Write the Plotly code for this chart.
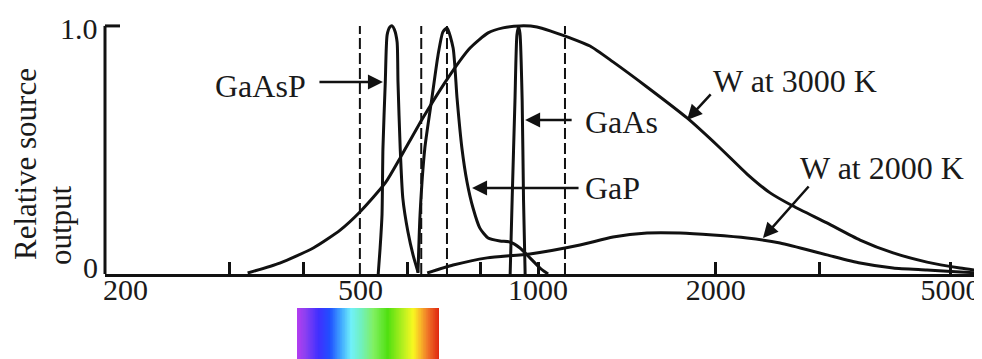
import math
import plotly.graph_objects as go

# ---------------- data (wavelength in nm, relative output) ----------------
w3000_nm = [322, 365, 416, 462, 499, 551, 584, 638, 709, 767, 823, 872, 932, 996, 1060,
            1133, 1225, 1340, 1530, 1789, 2035, 2261, 2474, 2705, 3088, 3515, 3998, 4563,
            5191, 5656]
w3000_val = [0.004, 0.044, 0.105, 0.177, 0.250, 0.367, 0.468, 0.629, 0.802, 0.911, 0.972,
             0.992, 1.000, 0.996, 0.976, 0.952, 0.919, 0.855, 0.754, 0.629, 0.508, 0.403,
             0.327, 0.274, 0.206, 0.137, 0.085, 0.048, 0.024, 0.012]

w2000_nm = [649, 718, 820, 969, 1178, 1340, 1530, 1741, 1980, 2261, 2572, 3088, 3515,
            3998, 4563, 5191, 5656]
w2000_val = [0.004, 0.036, 0.065, 0.081, 0.117, 0.149, 0.165, 0.165, 0.157, 0.145, 0.125,
             0.077, 0.044, 0.024, 0.016, 0.008, 0.004]

gaasp_nm = [536, 540, 544, 546, 551, 555, 561, 566, 571, 577, 579, 584, 590, 602, 614, 626]
gaasp_val = [0.0, 0.105, 0.238, 0.508, 0.774, 0.964, 0.996, 1.0, 0.985, 0.935, 0.774,
             0.508, 0.306, 0.169, 0.077, 0.008]

gap_nm = [626, 631, 643, 661, 677, 690, 701, 718, 729, 743, 758, 776, 797, 823, 862, 896,
          932, 969, 1008, 1040]
gap_val = [0.004, 0.238, 0.508, 0.710, 0.883, 0.976, 0.992, 0.911, 0.710, 0.508, 0.371,
           0.266, 0.185, 0.145, 0.133, 0.129, 0.105, 0.065, 0.024, 0.0]

gaas_nm = [897, 904, 914, 921, 927, 932, 940, 945, 951]
gaas_val = [0.0, 0.30, 0.70, 0.964, 0.996, 0.97, 0.70, 0.30, 0.0]

dashed_nm = [499, 634, 701, 1111]
dashed_top = 1.0

x_tick_vals = [200, 500, 1000, 2000, 5000]
x_tick_text = ["200", "500", "1000", "2000", "5000"]
x_minor_vals = [300, 400, 600, 800, 1000, 2000, 3000, 5000]
y_tick_vals = [0, 1.0]
y_tick_text = ["0", "1.0"]

# visible-spectrum strip colours (left -> right)
spectrum_stops = [0.0, 0.05, 0.15, 0.23, 0.31, 0.38, 0.45, 0.54, 0.64, 0.75, 0.82, 0.87, 0.92, 1.0]
spectrum_colors = ["#b23cf0", "#9040f0", "#4030ff", "#2050ff", "#40a8ff", "#70f0fa", "#70f0c0",
                   "#80f060", "#50e010", "#b8f020", "#f8f820", "#f8b828", "#f07828", "#e02810"]

labels = ["GaAsP", "GaAs", "GaP", "W at 3000 K", "W at 2000 K"]

# ---------------- figure ----------------
INK = "#111111"
TXT = "#1a1a1a"
FONT = "Liberation Serif"
LW = 3

fig = go.Figure()

def curve(xs, ys):
    fig.add_trace(go.Scatter(x=xs, y=ys, mode="lines", xaxis="x", yaxis="y",
                             line=dict(color=INK, width=LW, shape="spline", smoothing=0.6),
                             showlegend=False, hoverinfo="skip"))

curve(w3000_nm, w3000_val)
curve(w2000_nm, w2000_val)
curve(gaasp_nm, gaasp_val)
curve(gap_nm, gap_val)
curve(gaas_nm, gaas_val)

dx, dy = [], []
for w in dashed_nm:
    dx += [w, w, None]
    dy += [0, dashed_top, None]
fig.add_trace(go.Scatter(x=dx, y=dy, mode="lines", line=dict(color=INK, width=2, dash="11px,4px"),
                         showlegend=False, hoverinfo="skip"))

# spectrum strip
n = 200
fig.add_trace(go.Heatmap(z=[[i / (n - 1) for i in range(n)]], xaxis="x2", yaxis="y2",
                         colorscale=[[s, c] for s, c in zip(spectrum_stops, spectrum_colors)],
                         showscale=False, hoverinfo="skip", zmin=0, zmax=1))

# the page body has an 8px margin: the figure is drawn 8px right/down of the window origin
OFF = 8
SCR_TOP = 16          # top of plotting paper, in window pixels
PAPER_H = 359 - SCR_TOP
PAPER_W = 982 - 105

def px(xp):
    return (xp - 105) / PAPER_W

def py(yp):
    return (359 - yp) / PAPER_H

fig.update_layout(
    template="none",
    width=982, height=359,
    margin=dict(l=105 - OFF, r=OFF, t=SCR_TOP - OFF, b=OFF, pad=0, autoexpand=False),
    paper_bgcolor="white", plot_bgcolor="white",
    font=dict(family=FONT, size=30, color=TXT),
    xaxis=dict(type="log", range=[2.2661, 3.7525], domain=[0, 1], anchor="y", automargin=False,
               showline=True, linewidth=LW, linecolor=INK, showgrid=False, zeroline=False,
               tickmode="array", tickvals=x_tick_vals, ticktext=x_tick_text, ticks="",
               ticklabeloverflow="allow", ticklabelstandoff=-13,
               tickfont=dict(family=FONT, size=30, color=TXT),
               minor=dict(tickmode="array", tickvals=x_minor_vals, ticks="inside", ticklen=12,
                          tickwidth=2.5, tickcolor=INK, showgrid=False)),
    yaxis=dict(domain=[py(274), 1], range=[0, 1.04], showline=False, showgrid=False,
               zeroline=False, showticklabels=False, ticks="", automargin=False),
    xaxis2=dict(domain=[px(297), px(439)], anchor="y2", visible=False, automargin=False),
    yaxis2=dict(domain=[0, py(308)], anchor="x2", visible=False, automargin=False),
    showlegend=False,
)

# y axis line and top tick
fig.add_shape(type="line", xref="paper", yref="y", x0=0, x1=0, y0=0, y1=1.0,
              line=dict(color=INK, width=LW))
fig.add_shape(type="line", xref="paper", yref="y", x0=0, x1=15 / PAPER_W, y0=1.0, y1=1.0,
              line=dict(color=INK, width=LW))

# y tick labels
for v, t, sh in zip(y_tick_vals, y_tick_text, [7, -3]):
    fig.add_annotation(text=t, xref="paper", yref="y", x=px(100), y=v, xanchor="right",
                       yanchor="middle", yshift=sh, showarrow=False,
                       font=dict(family=FONT, size=30, color=TXT))

# y title (two rotated lines)
fig.add_annotation(text="Relative source", xref="paper", yref="paper", x=px(25), y=py(164),
                   xanchor="center", yanchor="middle",
                   textangle=-90, showarrow=False, font=dict(family=FONT, size=31, color=TXT))
fig.add_annotation(text="output", xref="paper", yref="paper", x=px(60), y=py(225),
                   xanchor="center", yanchor="middle",
                   textangle=-90, showarrow=False, font=dict(family=FONT, size=31, color=TXT))

# text labels
label_pos = [(260, 86), (621, 122), (612, 188), (795, 81), (882, 168)]
for t, (xp, yp) in zip(labels, label_pos):
    fig.add_annotation(text=t, xref="paper", yref="paper", x=px(xp), y=py(yp), showarrow=False,
                       xanchor="center", yanchor="middle",
                       font=dict(family=FONT, size=32, color=TXT))

# arrows (tip in data coords, tail offset in pixels)
arrows = [(546, 0.774, -65, 0), (951, 0.621, 48, 0), (773, 0.347, 108, 0),
          (1789, 0.621, 25, -27), (2406, 0.145, 47, -53)]
for w, v, axp, ayp in arrows:
    fig.add_annotation(text="", x=math.log10(w), y=v, xref="x", yref="y", ax=axp, ay=ayp,
                       showarrow=True, arrowhead=2, arrowsize=1.2, arrowwidth=2.5,
                       arrowcolor=INK, standoff=0)

fig.write_html("out.html")
